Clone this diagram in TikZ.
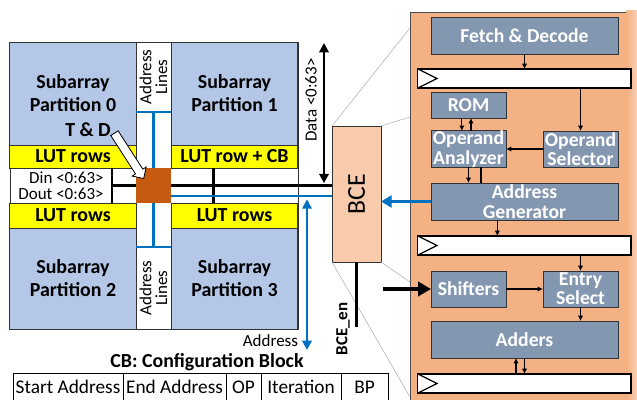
\documentclass[tikz,border=0pt]{standalone}
\usepackage{fontspec}
\setmainfont{Carlito}
\usetikzlibrary{arrows.meta,positioning,calc,shapes.arrows}
\definecolor{subblue}{HTML}{B4C7E7}
\definecolor{lutyellow}{HTML}{FFFF00}
\definecolor{tdorange}{HTML}{C55A11}
\definecolor{linkblue}{HTML}{0070C0}
\definecolor{panelorange}{HTML}{F4B183}
\definecolor{bcefill}{HTML}{F8CBAD}
\definecolor{unitgray}{HTML}{8497B0}

\begin{document}
\begin{tikzpicture}[
    every node/.style={inner sep=0pt, outer sep=0pt},
    bigfont/.style={font=\fontsize{17}{19.5}\selectfont\bfseries},
    smallfont/.style={font=\fontsize{14.5}{13.5}\selectfont},
    subarr/.style={draw=black!80, line width=0.8pt, fill=subblue, minimum width=3.8cm, minimum height=3.09cm, align=center, bigfont},
    lutrow/.style={draw=black!80, line width=0.8pt, fill=lutyellow, minimum width=3.8cm, bigfont},
    unit/.style={draw=black!80, line width=0.8pt, fill=unitgray, text=white, align=center, font=\fontsize{16.8}{16.5}\selectfont\bfseries},
    regbar/.style={draw=black, line width=1pt, fill=white, minimum width=6.39cm, minimum height=0.57cm},
    cbcell/.style={draw=black, line width=0.6pt, minimum height=0.84cm, font=\fontsize{16.5}{18}\selectfont},
    bus/.style={line width=2.4pt, black},
    addr/.style={line width=2.4pt, linkblue},
    flow/.style={-{Latex[length=4.5pt,width=4.5pt]}, line width=0.9pt},
    bigtip/.style={-{Triangle[length=9pt,width=10pt]}}
]
    \useasboundingbox (0,0) rectangle (19.11,-11.97);
    \clip (0,0) rectangle (19.11,-11.97);

    % Zoom lines from BCE to the detail panel
    \coordinate (zoomtl) at (12.3,-0.84);
    \coordinate (zoomtr) at (12.3,-3.51);
    \coordinate (zoombr) at (12.3,-8.46);
    \coordinate (zoombl) at (12.3,-11.91);

    % Detail panel
    \node[draw=black!70, fill=panelorange, minimum width=7cm, minimum height=11.84cm] (panel) at (15.8,-6.28) {};
    \shade[left color=panelorange, right color=panelorange!35] (18.8,-0.3) rectangle (19.3,-12.2);

    \node[unit, minimum width=5.61cm, minimum height=1.11cm] (fetch) at (15.735,-1.065) {Fetch \& Decode};
    \node[regbar] (reg1) at (15.735,-2.355) {};
    \node[unit, minimum width=2.25cm, minimum height=0.78cm] (rom) at (14.055,-3.15) {ROM};
    \node[unit, minimum width=2.25cm, minimum height=1.08cm] (opana) at (14.055,-4.47) {Operand\\Analyzer};
    \node[unit, minimum width=2.25cm, minimum height=1.08cm] (opsel) at (17.415,-4.47) {Operand\\Selector};
    \node[unit, minimum width=5.61cm, minimum height=1.11cm] (addrgen) at (15.735,-6.045) {Address\\Generator};
    \node[regbar] (reg2) at (15.735,-7.365) {};
    \node[unit, minimum width=2.25cm, minimum height=1.08cm] (shift) at (14.055,-8.67) {Shifters};
    \node[unit, minimum width=2.25cm, minimum height=1.08cm] (entry) at (17.415,-8.67) {Entry\\Select};
    \node[unit, minimum width=5.61cm, minimum height=1.11cm] (adders) at (15.735,-10.185) {Adders};
    \node[regbar] (reg3) at (15.735,-11.505) {};

    % Clock marks
    \foreach \r in {reg1,reg2,reg3}
        \draw[line width=1pt, fill=white] (\r.north west) -- ($(\r.west)+(0.57,0)$) -- (\r.south west);

    % Datapath arrows
    \draw[flow] (fetch) -- (reg1);
    \draw[flow] (reg1.south -| opsel) -- (opsel);
    \draw[flow] ([xshift=-0.2cm]rom.south) -- ([xshift=-0.2cm]opana.north);
    \draw[flow] ([xshift=0.075cm]opana.north) -- ([xshift=0.075cm]rom.south);
    \draw[flow] (opsel) -- (opana);
    \draw[flow] (opana.south) -- (opana.south |- addrgen.north);
    \draw[line width=0.9pt] ([xshift=0.375cm]opana.south) -- ($(opana.south |- addrgen.north)+(0.375,0)$);
    \draw[flow] ([xshift=-0.815cm]addrgen.south) -- ([xshift=-0.815cm]reg2.north);
    \draw[flow] (reg2.south -| entry) -- (entry);
    \draw[flow] (shift) -- (entry);
    \draw[flow] (entry) -- (entry |- adders.north);
    \draw[flow] ([xshift=-0.255cm]reg3.north) -- ([xshift=-0.255cm]adders.south);
    \draw[flow] (adders.south) -- (reg3.north);

    % Memory array
    \node[draw=black!80, line width=0.8pt, fill=white, minimum width=8.64cm, minimum height=8.61cm] (frame) at (4.62,-5.565) {};
    \node[subarr] (sub0) at (2.19,-2.805) {Subarray\\Partition 0};
    \node[subarr] (sub1) at (7.035,-2.805) {Subarray\\Partition 1};
    \node[lutrow, minimum height=0.69cm] (lut0) at (2.19,-4.695) {LUT rows};
    \node[lutrow, minimum height=0.69cm] (lut1) at (7.035,-4.695) {LUT row + CB};
    \node[lutrow, minimum height=0.75cm] (lut2) at (2.19,-6.465) {LUT rows};
    \node[lutrow, minimum height=0.75cm] (lut3) at (7.035,-6.465) {LUT rows};
    \node[subarr, minimum height=3.03cm] (sub2) at (2.19,-8.355) {Subarray\\Partition 2};
    \node[subarr, minimum height=3.03cm] (sub3) at (7.035,-8.355) {Subarray\\Partition 3};
    \node[draw=black!80, line width=0.8pt, fill=white, minimum width=3.06cm, minimum height=1.05cm, align=right, smallfont] (din) at (1.83,-5.565) {Din <0:63>\\Dout <0:63>};
    \node[smallfont, rotate=90, align=center] (alines0) at (4.605,-2.31) {Address\\Lines};
    \node[smallfont, rotate=90, align=center] (alines1) at (4.605,-8.64) {Address\\Lines};

    % BCE
    \node[draw=black!80, line width=0.8pt, fill=bcefill, minimum width=1.47cm, minimum height=4.08cm] (bce) at (10.695,-5.82) {};
    \draw[gray!70, thin] (bce.north west) -- (zoomtl);
    \draw[gray!70, thin] (bce.north east) -- (zoomtr);
    \draw[gray!70, thin] (bce.south east) -- (zoombr);
    \draw[gray!70, thin] (bce.south west) -- (zoombl);
    \node[rotate=90, font=\fontsize{22}{24}\selectfont] (bcelabel) at (bce.center) {BCE};

    % Buses
    \draw[bus] (din.north east) -- (din.south east);
    \draw[bus] (din.east) -- (din.east -| bce.west);
    \draw[bus] ([xshift=1.26cm]lut1.south west) -- ([xshift=1.26cm]lut3.north west);
    \coordinate (blueline) at ([yshift=-0.315cm]4.605,-5.565);
    \draw[addr] (blueline) -- (blueline -| bce.west);
    \node[fill=tdorange, minimum width=1.05cm, minimum height=1.05cm] (tdbox) at (4.605,-5.565) {};
    \coordinate (ttop) at ($(tdbox.north)+(0,1.68)$);
    \coordinate (tbot) at ($(tdbox.south)+(0,-1.32)$);
    \draw[addr] (tdbox.north) -- (ttop);
    \draw[addr] (ttop -| sub0.east) -- (ttop -| sub1.west);
    \draw[addr] (tdbox.south) -- (tbot);
    \draw[addr] (tbot -| sub2.east) -- (tbot -| sub3.west);

    % T & D pointer
    \node[bigfont] (tdlabel) at (2.64,-3.9) {T \& D};
    \path ($(tdlabel.east)+(0.05,0)$) -- ($(tdbox.north west)+(0.22,-0.3)$)
        node[midway, sloped, single arrow, draw=black, line width=0.7pt, fill=white, inner xsep=0pt, inner ysep=2.8pt, minimum height=1.62cm, minimum width=0.5cm, single arrow head extend=0.1cm, single arrow head indent=0pt] (tdarrow) {};

    % Data and address
    \coordinate (datatop) at (9.72,-1.29);
    \draw[bus, {Triangle[length=8pt,width=8pt]}-{Triangle[length=8pt,width=8pt]}, shorten >=2pt] (datatop) -- (datatop |- din.east);
    \node[smallfont, rotate=90] (datalabel) at (9.33,-3.0) {Data <0:63>};
    \coordinate (addrbot) at (9.21,-10.5);
    \draw[addr, {Triangle[length=8pt,width=8pt]}-{Triangle[length=8pt,width=8pt]}] ($(addrbot |- blueline)+(0,-0.1)$) -- (addrbot);
    \node[smallfont, anchor=east] (addrlabel) at (8.94,-10.23) {Address};

    % BCE enable
    \draw[bus] (bce.south) -- ++(0,-1.95) coordinate (bceen);
    \node[font=\fontsize{14.5}{16}\selectfont\bfseries, rotate=90] (bceenlabel) at (10.29,-9.87) {BCE\_en};

    % Links to the panel
    \draw[addr, line width=3.2pt, bigtip] (addrgen.west) -- (addrgen.west -| bce.east);
    \coordinate (shiftin) at (11.49,-8.67);
    \draw[line width=3.2pt, -{Triangle[length=11pt,width=12pt]}] (shiftin) -- (shift.west);

    % Configuration block
    \node[bigfont] (cbtitle) at (6.21,-10.86) {CB: Configuration Block};
    \node[cbcell, minimum width=3.3cm] (cb1) at (2.04,-11.61) {Start Address};
    \node[cbcell, minimum width=3.09cm, right=0pt of cb1] (cb2) {End Address};
    \node[cbcell, minimum width=1.05cm, right=0pt of cb2] (cb3) {OP};
    \node[cbcell, minimum width=2.4cm, right=0pt of cb3] (cb4) {Iteration};
    \node[cbcell, minimum width=1.41cm, right=0pt of cb4] (cb5) {BP};
\end{tikzpicture}
\end{document}
